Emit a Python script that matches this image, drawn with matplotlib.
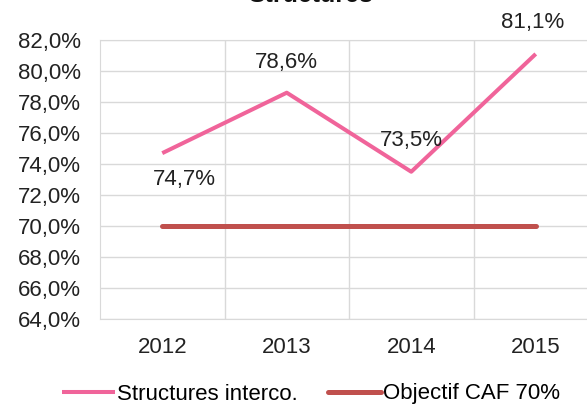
import matplotlib
matplotlib.use("Agg")
import matplotlib.pyplot as plt
from matplotlib.ticker import FuncFormatter, FixedLocator

years = ["2012", "2013", "2014", "2015"]
structures = [74.7, 78.6, 73.5, 81.1]
objectif = [70.0, 70.0, 70.0, 70.0]
labels = ["74,7%", "78,6%", "73,5%", "81,1%"]
title = "Structures"

plt.rcParams['font.family'] = ['Liberation Sans', 'DejaVu Sans']

fig = plt.figure(figsize=(5.87, 4.05), dpi=100)
ax = fig.add_axes([100/587, 1-319/405, (598-100)/587, (319-40)/405])
x = list(range(len(years)))

ax.plot(x, structures, color="#F0649A", lw=2.9, label="Structures interco.", solid_capstyle="butt")
ax.plot(x, objectif, color="#C0504D", lw=3.6, label="Objectif CAF 70%", solid_capstyle="round")

ax.set_xlim(-0.5, 3.5)
ax.set_ylim(64, 82)
ax.set_yticks([64 + 2*i for i in range(10)])
ax.yaxis.set_major_formatter(FuncFormatter(lambda v, p: f"{v:.1f}%".replace(".", ",")))
ax.set_xticks(x)
ax.set_xticklabels(years)
ax.xaxis.set_minor_locator(FixedLocator([0.5, 1.5, 2.5]))
ax.grid(axis="y", which="major", color="#D9D9D9", lw=1)
ax.grid(axis="x", which="minor", color="#D9D9D9", lw=1)
ax.set_axisbelow(True)
for s in ax.spines.values():
    s.set_color("#D9D9D9")
ax.tick_params(which="both", length=0, labelsize=16, colors="#222222")
ax.tick_params(axis="x", pad=13)
ax.tick_params(axis="y", pad=14)

offsets = [(16, -19), (0, 22), (0, 22.5), (-2, 22.5)]
for xi, yi, lab, off in zip(x, structures, labels, offsets):
    ax.annotate(lab, (xi, yi), xytext=off, textcoords="offset points",
                ha="center", va="center",
                fontsize=16, color="#222222")

fig.text(311/587, 1 - (-5)/405, title, ha="center", va="center", fontsize=18, fontweight="bold", color="#111111")

fig.legend(loc="center", bbox_to_anchor=(311/587, 1-394/405), ncol=2, frameon=False,
           fontsize=16, handlelength=2.4, handletextpad=0.1, columnspacing=1.35)

fig.savefig("out.png", dpi=100)
